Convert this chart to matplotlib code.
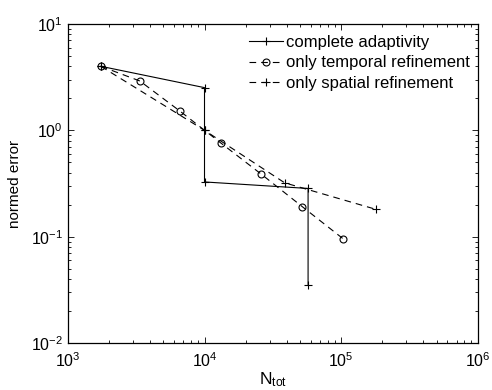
import matplotlib
matplotlib.use("Agg")
import matplotlib.pyplot as plt
from matplotlib.ticker import LogLocator, NullFormatter

plt.rcParams['font.family'] = ['Liberation Sans', 'DejaVu Sans']
plt.rcParams['mathtext.fontset'] = 'custom'
plt.rcParams['mathtext.rm'] = 'Liberation Sans'
plt.rcParams['mathtext.it'] = 'Liberation Sans'
plt.rcParams['mathtext.bf'] = 'Liberation Sans'

# Data
complete_x = [1743, 10000, 10000, 10000, 57300, 57300]
complete_y = [4.0, 2.52, 1.0, 0.327, 0.284, 0.035]

temporal_x = [1743, 3363, 6594, 13100, 26100, 52100, 104000]
temporal_y = [4.0, 2.91, 1.52, 0.764, 0.386, 0.191, 0.095]

spatial_x = [1743, 10000, 38600, 179000]
spatial_y = [4.0, 1.0, 0.321, 0.181]

labels = ['complete adaptivity', 'only temporal refinement', 'only spatial refinement']

fig = plt.figure(figsize=(4.92, 3.90), dpi=100)
ax = fig.add_axes([0.138, 0.1205, 0.833, 0.818])

lw = 0.8
ax.plot(complete_x, complete_y, color='black', lw=lw, marker='+', ms=6, mew=0.8,
        label=labels[0])
ax.plot(temporal_x, temporal_y, color='black', lw=lw, dashes=(6, 4.5), marker='o',
        ms=5, mfc='none', mew=0.8, label=labels[1])
ax.plot(spatial_x, spatial_y, color='black', lw=lw, dashes=(6, 4.5), marker='+',
        ms=6, mew=0.8, label=labels[2])

ax.set_xscale('log')
ax.set_yscale('log')
ax.set_xlim(1e3, 1e6)
ax.set_ylim(1e-2, 1e1)

ax.xaxis.set_major_locator(LogLocator(base=10, numticks=10))
ax.yaxis.set_major_locator(LogLocator(base=10, numticks=10))
ax.xaxis.set_minor_locator(LogLocator(base=10, subs=range(2, 10), numticks=20))
ax.yaxis.set_minor_locator(LogLocator(base=10, subs=range(2, 10), numticks=20))
ax.xaxis.set_minor_formatter(NullFormatter())
ax.yaxis.set_minor_formatter(NullFormatter())

ax.tick_params(which='both', direction='in', top=True, right=True, labelsize=11.5, width=0.6)
ax.tick_params(which='major', length=4)
ax.tick_params(which='minor', length=2)
ax.tick_params(axis='x', pad=6)
for s in ax.spines.values():
    s.set_linewidth(0.9)

ax.set_xlabel(r'N$_{\mathrm{tot}}$', fontsize=12.5, labelpad=0)
ax.set_ylabel('normed error', fontsize=11, labelpad=6)

leg = ax.legend(loc='upper right', bbox_to_anchor=(0.995, 0.984), frameon=False,
                fontsize=12, handlelength=2.0, handletextpad=0.2,
                labelspacing=0.33, borderaxespad=0.0, borderpad=0.35)

fig.savefig('out.png', dpi=100)
